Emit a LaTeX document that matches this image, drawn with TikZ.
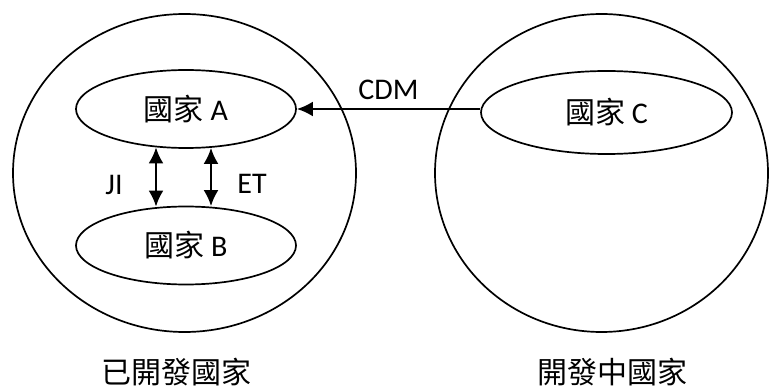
\documentclass[tikz,border=0pt]{standalone}
\usepackage{fontspec}
\setmainfont{Carlito}
\newfontfamily\cjk{Noto Sans CJK TC}
\usetikzlibrary{shapes.geometric,arrows.meta}
\begin{document}
\begin{tikzpicture}[x=1pt,y=-1pt,
  region/.style={draw,ellipse,line width=1.7pt,inner sep=0pt},
  country/.style={draw,ellipse,line width=1.7pt,inner sep=0pt,minimum width=220pt,minimum height=78pt,font=\fontsize{30}{36}\selectfont},
  tip/.tip={Latex[length=16pt,width=15pt]},
  flow/.style={line width=2.4pt,-tip},
  both/.style={line width=2.4pt,tip-tip},
  lbl/.style={font=\fontsize{30}{36}\selectfont,inner sep=0pt}]
\useasboundingbox (0,0) rectangle (770,387);
\node[region,minimum width=343pt,minimum height=318pt] (dev) at (184.5,173) {};
\node[region,minimum width=333pt,minimum height=318pt] (ldc) at (601.5,173) {};
\node[country] (A) at (186,109) {{\cjk 國家} A};
\node[country] (B) at (186,245.5) {{\cjk 國家} B};
\node[country,minimum width=251pt,minimum height=83pt] (C) at (606.5,112.5) {{\cjk 國家} C};
\draw[flow] (C.west |- A.east) -- node[lbl,midway,above=8pt] (cdm) {CDM} (A.east);
\draw[both] ([xshift=-30pt,yshift=1.5pt]A.south) -- ([xshift=-30pt,yshift=-1pt]B.north);
\draw[both] ([xshift=25pt,yshift=1pt]A.south) -- ([xshift=25pt,yshift=-0.5pt]B.north);
\node[lbl] (ji) at (114,185) {JI};
\node[lbl] (et) at (252,184) {ET};
\node[lbl] (devl) at (176,372) {\cjk 已開發國家};
\node[lbl] (ldcl) at (612,372) {\cjk 開發中國家};
\end{tikzpicture}
\end{document}
